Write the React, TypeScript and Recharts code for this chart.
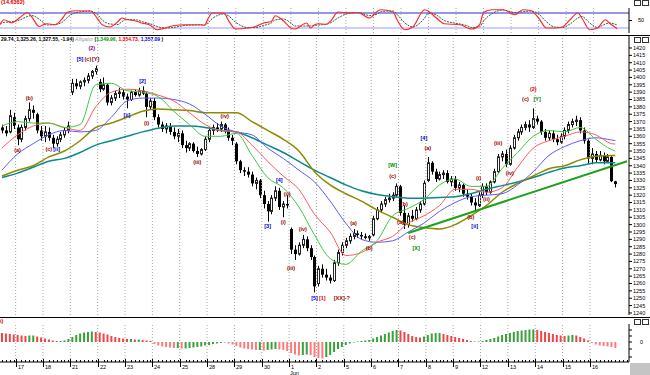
import React from "react";
import {
  Bar,
  Cell,
  ComposedChart,
  Line,
  ReferenceDot,
  ReferenceLine,
  XAxis,
  YAxis,
} from "recharts";

const W = 650;
const PLOT_W = 629;
const AXIS_W = W - PLOT_W;
const FONT = "'Liberation Sans', Arial, sans-serif";

const UP_HIST = "#3aa03a";
const DOWN_HIST = "#f04545";
const DOWN_HIST_NEG = "#ff7a7a";
const GRID = "#a8a8a8";

// trading days on the axis and the first hourly bar of each
const DAY_LABELS = ["17", "18", "21", "22", "23", "24", "25", "28", "29", "30", "1", "2", "5", "6", "7", "8", "9", "12", "13", "14", "15", "16"];
const DAY_START = [4, 11, 18, 25, 32, 39, 46, 53, 60, 67, 74, 81, 88, 95, 102, 109, 116, 123, 130, 137, 144, 151];
const MONTH_MARK: Record<string, string> = { "1": "Jun" };
const EMPTY_SLOTS = 3;

const PRICE_TICKS = [
  1240, 1245, 1250, 1255, 1260, 1265, 1270, 1275, 1280, 1285, 1290, 1295, 1300,
  1305, 1310, 1315, 1320, 1325, 1330, 1335, 1340, 1345, 1350, 1355, 1360, 1365,
  1370, 1375, 1380, 1385, 1390, 1395, 1400, 1405, 1410, 1415, 1420,
];

// hourly bars: open, high, low, close
const CANDLES: [number, number, number, number][] = [
  [1366, 1368, 1362, 1364], [1364, 1367, 1360, 1362], [1363, 1378, 1362, 1374], [1373, 1376, 1365, 1367],
  // 17
  [1366, 1368, 1354, 1358], [1358, 1368, 1356, 1366], [1366, 1374, 1364, 1372], [1372, 1383, 1370, 1378],
  [1378, 1381, 1372, 1376], [1375, 1376, 1362, 1364], [1364, 1367, 1357, 1360],
  // 18
  [1360, 1367, 1356, 1363], [1363, 1366, 1357, 1359], [1359, 1361, 1352, 1355], [1355, 1360, 1353, 1358],
  [1358, 1363, 1356, 1361], [1361, 1366, 1359, 1364], [1364, 1370, 1362, 1367],
  // 21
  [1390, 1399, 1388, 1396], [1396, 1399, 1392, 1394], [1394, 1398, 1392, 1397], [1397, 1400, 1394, 1398],
  [1398, 1403, 1396, 1401], [1401, 1405, 1399, 1404], [1404, 1408, 1402, 1406],
  // 22
  [1397, 1399, 1390, 1392], [1392, 1400, 1391, 1395], [1395, 1396, 1381, 1383], [1383, 1388, 1381, 1386],
  [1386, 1391, 1384, 1389], [1389, 1393, 1386, 1390], [1390, 1392, 1385, 1387],
  // 23
  [1387, 1389, 1379, 1385], [1385, 1391, 1384, 1390], [1390, 1392, 1387, 1388], [1388, 1393, 1387, 1391],
  [1391, 1394, 1388, 1389], [1389, 1390, 1373, 1380], [1380, 1386, 1378, 1384],
  // 24
  [1384, 1386, 1371, 1373], [1373, 1375, 1366, 1368], [1368, 1370, 1363, 1365], [1365, 1369, 1362, 1367],
  [1367, 1369, 1361, 1363], [1363, 1366, 1358, 1360], [1360, 1365, 1356, 1362],
  // 25
  [1362, 1364, 1352, 1354], [1354, 1357, 1349, 1352], [1352, 1356, 1350, 1355], [1355, 1356, 1349, 1350],
  [1350, 1353, 1346, 1348], [1348, 1352, 1347, 1351], [1351, 1360, 1350, 1358],
  // 28
  [1358, 1366, 1356, 1364], [1364, 1368, 1361, 1366], [1366, 1369, 1363, 1365], [1365, 1370, 1363, 1368],
  [1368, 1369, 1362, 1364], [1364, 1366, 1357, 1359], [1359, 1361, 1354, 1357],
  // 29
  [1355, 1356, 1341, 1343], [1343, 1344, 1335, 1337], [1337, 1339, 1333, 1336], [1336, 1339, 1332, 1334],
  [1334, 1336, 1326, 1328], [1328, 1332, 1324, 1330], [1330, 1331, 1318, 1320],
  // 30
  [1320, 1323, 1311, 1314], [1314, 1316, 1302, 1309], [1309, 1320, 1307, 1318], [1318, 1326, 1316, 1323],
  [1323, 1325, 1310, 1312], [1312, 1316, 1305, 1314], [1314, 1320, 1311, 1313],
  // Jun 1
  [1297, 1298, 1280, 1283], [1283, 1286, 1276, 1280], [1280, 1288, 1279, 1286], [1286, 1293, 1284, 1290],
  [1290, 1292, 1282, 1284], [1284, 1286, 1276, 1278], [1278, 1279, 1254, 1258],
  // 2
  [1260, 1272, 1258, 1270], [1270, 1273, 1264, 1266], [1266, 1270, 1262, 1264], [1264, 1266, 1260, 1262],
  [1262, 1276, 1261, 1274], [1274, 1283, 1272, 1281], [1281, 1288, 1279, 1286],
  // 5
  [1286, 1291, 1284, 1289], [1289, 1294, 1287, 1292], [1292, 1297, 1290, 1294], [1294, 1296, 1291, 1293],
  [1293, 1295, 1290, 1292], [1292, 1294, 1290, 1291], [1291, 1293, 1289, 1292],
  // 6
  [1293, 1306, 1292, 1304], [1304, 1312, 1303, 1310], [1310, 1316, 1308, 1314], [1314, 1319, 1312, 1317],
  [1317, 1321, 1315, 1318], [1318, 1322, 1316, 1320], [1320, 1328, 1319, 1326],
  // 7
  [1326, 1327, 1306, 1308], [1308, 1313, 1297, 1300], [1300, 1308, 1298, 1306], [1306, 1310, 1302, 1304],
  [1304, 1312, 1303, 1310], [1310, 1316, 1308, 1314], [1314, 1330, 1313, 1328],
  // 8
  [1330, 1346, 1329, 1342], [1342, 1343, 1334, 1336], [1336, 1338, 1329, 1331], [1331, 1336, 1330, 1334],
  [1334, 1337, 1331, 1335], [1335, 1337, 1328, 1329], [1329, 1333, 1326, 1331],
  // 9
  [1331, 1333, 1323, 1325], [1325, 1329, 1322, 1327], [1327, 1328, 1319, 1321], [1321, 1324, 1317, 1319],
  [1319, 1321, 1313, 1315], [1315, 1318, 1309, 1313], [1313, 1322, 1312, 1320],
  // 12
  [1320, 1328, 1318, 1326], [1326, 1328, 1320, 1322], [1322, 1330, 1321, 1329], [1329, 1338, 1328, 1336],
  [1336, 1348, 1335, 1346], [1346, 1350, 1343, 1348], [1348, 1351, 1339, 1341],
  // 13
  [1341, 1354, 1340, 1352], [1352, 1361, 1351, 1359], [1359, 1365, 1357, 1363], [1363, 1368, 1361, 1366],
  [1366, 1370, 1364, 1368], [1368, 1371, 1363, 1366], [1366, 1379, 1365, 1372],
  // 14
  [1372, 1374, 1368, 1370], [1370, 1371, 1361, 1363], [1363, 1365, 1357, 1359], [1359, 1364, 1357, 1362],
  [1362, 1364, 1356, 1358], [1358, 1361, 1354, 1356], [1356, 1362, 1355, 1360],
  // 15
  [1360, 1366, 1358, 1364], [1364, 1370, 1362, 1368], [1368, 1372, 1366, 1370], [1370, 1374, 1367, 1371],
  [1371, 1373, 1362, 1364], [1364, 1366, 1355, 1357], [1357, 1358, 1341, 1345],
  // 16
  [1345, 1352, 1341, 1348], [1348, 1350, 1342, 1344], [1344, 1350, 1343, 1347], [1347, 1349, 1341, 1343],
  [1343, 1348, 1342, 1346], [1346, 1347, 1329, 1329.49], [1329.4, 1329.74, 1325.26, 1327.55],
];

// moving averages read at every 4th bar
const MA_IDX = [0, 4, 8, 12, 16, 20, 24, 28, 32, 36, 40, 44, 48, 52, 56, 60, 64, 68, 72, 76, 80, 84, 88, 92, 96, 100, 104, 108, 112, 116, 120, 124, 128, 132, 136, 140, 144, 148, 152, 156, 157];
const LIPS = [1367, 1370, 1369, 1369, 1366, 1368, 1395, 1396, 1391, 1390, 1387, 1377, 1368, 1360, 1360, 1362, 1347, 1332, 1325, 1312, 1293, 1277, 1273, 1282, 1289, 1306, 1311, 1317, 1327, 1331, 1326, 1326, 1338, 1349, 1360, 1364, 1363, 1366, 1358, 1351, 1349.96];
const TEETH = [1352, 1361, 1367, 1369, 1366, 1364, 1380, 1390, 1392, 1391, 1388, 1384, 1376, 1368, 1364, 1363, 1354, 1343, 1333, 1324, 1307, 1295, 1279, 1281, 1288, 1292, 1301, 1306, 1313, 1324, 1324, 1322, 1325, 1339, 1352, 1357, 1360, 1363, 1361, 1355, 1354.73];
const JAW = [1337, 1348, 1355, 1361, 1364, 1363, 1364, 1373, 1384, 1386, 1386, 1385, 1382, 1375, 1367, 1363, 1361, 1352, 1345, 1337, 1329, 1316, 1301, 1290, 1288, 1289, 1295, 1301, 1309, 1315, 1319, 1320, 1321, 1327, 1336, 1347, 1353, 1357, 1359, 1357.5, 1357.09];
const OLIVE = [1333, 1337, 1340, 1346, 1350, 1357, 1366, 1369, 1373, 1377, 1378.5, 1378, 1377.5, 1376, 1376, 1376, 1370, 1364, 1358, 1350, 1336, 1327, 1321, 1316, 1310, 1305, 1300, 1298, 1297, 1300, 1306, 1313, 1322, 1328, 1333, 1338, 1340, 1344, 1346.5, 1347, 1347];
const TEAL = [1332, 1335, 1339, 1343, 1345, 1349, 1354, 1357, 1360, 1363, 1365.5, 1367, 1367, 1366, 1364, 1363, 1359, 1354, 1349, 1343, 1337, 1332, 1327, 1323, 1320.5, 1319, 1318, 1318, 1318.5, 1319, 1321, 1324, 1326.5, 1329, 1332, 1335.5, 1338.5, 1340, 1342, 1342, 1342];

const TREND = [
  { i: 104, p: 1294.3 },
  { i: 160, p: 1343.1 },
];

// stochastic %K / %D
const STOCH_IDX = [0, 1, 3, 5, 7, 8, 10, 11, 12, 14, 16, 17, 19, 23, 25, 26, 28, 30, 31, 32, 35, 36, 38, 40, 42, 44, 47, 51, 52, 53, 54, 57, 58, 60, 63, 65, 67, 69, 70, 72, 74, 75, 78, 79, 80, 81, 83, 84, 86, 89, 91, 94, 96, 97, 100, 101, 103, 105, 108, 109, 111, 113, 117, 119, 120, 122, 123, 125, 128, 131, 133, 135, 137, 139, 141, 143, 145, 147, 148, 150, 152, 154, 155, 157];
const STOCH_K = [33, 53, 41, 61, 82, 66, 26, 33, 37, 33, 61, 82, 89, 88, 53, 33, 24, 46, 60, 55, 46, 40, 33, 13, 20, 29, 33, 33, 31, 60, 80, 80, 53, 16, 20, 26, 40, 46, 69, 50, 20, 16, 40, 20, 33, 37, 35, 46, 84, 80, 82, 60, 87, 93, 84, 53, 13, 24, 93, 87, 60, 37, 33, 20, 16, 33, 82, 93, 93, 73, 93, 90, 60, 20, 20, 24, 53, 80, 60, 13, 20, 53, 40, 17];
const STOCH_D = [38, 42, 45, 52, 66, 70, 55, 42, 32, 34, 45, 60, 80, 88, 70, 52, 36, 34, 45, 54, 52, 46, 38, 26, 20, 22, 30, 32, 32, 42, 58, 76, 70, 42, 22, 22, 30, 40, 52, 56, 40, 28, 28, 28, 30, 32, 35, 40, 60, 80, 82, 70, 76, 86, 88, 74, 40, 24, 60, 80, 72, 50, 36, 28, 22, 25, 48, 76, 92, 82, 85, 88, 76, 45, 24, 22, 36, 60, 66, 40, 22, 36, 40, 32];

// oscillator histogram, one per bar
const HIST = [
  9, 8.5, 8, 7.5,
  7, 6.5, 6, 6.5, 6.5, 5.5, 4.5,
  3.5, 2.5, 1.5, 1, 1, 1.5, 3,
  5, 7, 8.5, 9.5, 10, 10.5, 10,
  9.5, 8.5, 7.5, 6, 5, 4, 3.5,
  3, 3, 2.5, 2.5, 2, 1.5, 1,
  -2, -3.5, -4.5, -5, -5.5, -6, -6,
  -6.5, -6.5, -6, -5.5, -5, -4.5, -3.5,
  -3, -2, -1.5, -1, -0.5, -1.5, -2.5,
  -4, -5.5, -6.5, -7, -7.5, -8, -8,
  -8.5, -8, -7.5, -7, -7.5, -8, -9,
  -11, -12.5, -13.5, -13, -12.5, -13, -15,
  -16, -16.5, -15, -13, -10, -7, -5,
  -3, -1.5, -0.5, 0.5, 1, 1.5, 2,
  3.5, 5, 6.5, 8, 9.5, 11, 12,
  11.5, 10, 8, 6, 5, 4.5, 5.5,
  7, 8.5, 9, 9, 8, 7, 6,
  5, 4, 3, 2, 1, 0.5, 0.5,
  1, 2, 3, 4, 5.5, 7, 8,
  9, 10, 11, 11.5, 12, 12.5, 12.5,
  12, 11, 10, 9, 8, 7, 6.5,
  6, 6.5, 7, 6.5, 5, 3.5, 1.5,
  -1, -2.5, -3.5, -4, -4.5, -5, -6,
];

const DARK_RED = "#990000";
const BLUE = "#0000cc";
const GREEN_TXT = "#008800";
const WAVES = [
  { i: 4, p: 1350.7, t: "(a)", c: DARK_RED },
  { i: 7, p: 1386, t: "(b)", c: DARK_RED },
  { i: 12, p: 1351.4, t: "(c)", c: DARK_RED },
  { i: 14, p: 1351.4, t: "[ii]", c: BLUE },
  { i: 23, p: 1420, t: "(2)", c: "#880088" },
  { i: 20, p: 1412.5, t: "[5]", c: BLUE },
  { i: 22, p: 1412.5, t: "(c)", c: DARK_RED },
  { i: 24, p: 1412.5, t: "[Y]", c: "#770022" },
  { i: 32, p: 1374.5, t: "[ii]", c: BLUE },
  { i: 36, p: 1397.6, t: "[2]", c: BLUE },
  { i: 37, p: 1369, t: "(i)", c: DARK_RED },
  { i: 50, p: 1342.6, t: "(iii)", c: DARK_RED },
  { i: 57, p: 1373.8, t: "(iv)", c: DARK_RED },
  { i: 68, p: 1299, t: "[3]", c: BLUE },
  { i: 71, p: 1330.3, t: "[4]", c: BLUE },
  { i: 72, p: 1302, t: "(i)", c: DARK_RED },
  { i: 73, p: 1320.8, t: "(ii)", c: DARK_RED },
  { i: 74, p: 1270.5, t: "(iii)", c: DARK_RED },
  { i: 77, p: 1297, t: "(iv)", c: DARK_RED },
  { i: 80, p: 1250, t: "[5]", c: BLUE },
  { i: 82, p: 1250, t: "[1]", c: "#ee0000" },
  { i: 87, p: 1250, t: "[XX]-?", c: DARK_RED },
  { i: 90, p: 1301, t: "(a)", c: DARK_RED },
  { i: 94, p: 1284, t: "(b)", c: DARK_RED },
  { i: 100, p: 1340.5, t: "[W]", c: GREEN_TXT },
  { i: 100, p: 1333, t: "(c)", c: DARK_RED },
  { i: 102, p: 1301.8, t: "(a)", c: DARK_RED },
  { i: 103, p: 1314, t: "(b)", c: DARK_RED },
  { i: 105, p: 1291.6, t: "(c)", c: DARK_RED },
  { i: 106, p: 1284, t: "[X]", c: GREEN_TXT },
  { i: 108, p: 1358.9, t: "[4]", c: BLUE },
  { i: 109, p: 1352, t: "(a)", c: DARK_RED },
  { i: 120, p: 1305.2, t: "(b)", c: DARK_RED },
  { i: 121, p: 1299.1, t: "[ii]", c: BLUE },
  { i: 122, p: 1331.7, t: "(i)", c: DARK_RED },
  { i: 124, p: 1317.4, t: "(ii)", c: DARK_RED },
  { i: 127, p: 1355.5, t: "(iii)", c: DARK_RED },
  { i: 130, p: 1335, t: "(iv)", c: DARK_RED },
  { i: 136, p: 1392, t: "(2)", c: "#ee0000" },
  { i: 134, p: 1385.4, t: "(c)", c: DARK_RED },
  { i: 137, p: 1385.4, t: "[Y]", c: GREEN_TXT },
];

type Row = {
  i: number;
  range?: [number, number];
  o?: number;
  c?: number;
  hist?: number;
  lips?: number;
  teeth?: number;
  jaw?: number;
  olive?: number;
  teal?: number;
  k?: number;
  d?: number;
};

const rows: Row[] = [];
for (let i = 0; i < CANDLES.length + EMPTY_SLOTS; i++) rows.push({ i });
CANDLES.forEach(([o, h, l, c], i) => Object.assign(rows[i], { range: [l, h], o, c, hist: HIST[i] }));
MA_IDX.forEach((i, n) =>
  Object.assign(rows[i], { lips: LIPS[n], teeth: TEETH[n], jaw: JAW[n], olive: OLIVE[n], teal: TEAL[n] })
);
STOCH_IDX.forEach((i, n) => Object.assign(rows[i], { k: STOCH_K[n], d: STOCH_D[n] }));

// rising bar green, falling bar red (first bar compared with the one after it)
function histColor(i: number) {
  const v = HIST[i];
  const rising = i > 0 ? v >= HIST[i - 1] : v <= HIST[1];
  if (rising) return UP_HIST;
  return v < 0 ? DOWN_HIST_NEG : DOWN_HIST;
}

function Candle(props: any) {
  const { x, y, width, height, payload } = props;
  if (!payload || payload.o == null) return null;
  const [lo, hi] = payload.range;
  const top = Math.min(y, y + height);
  const h = Math.abs(height);
  const toY = (v: number) => top + ((hi - v) / (hi - lo || 1)) * h;
  const cx = Math.round(x + width / 2) + 0.5;
  const bTop = toY(Math.max(payload.o, payload.c));
  const bBot = toY(Math.min(payload.o, payload.c));
  const up = payload.c >= payload.o;
  return (
    <g>
      <line x1={cx} x2={cx} y1={top} y2={top + h} stroke="#000" strokeWidth={1} />
      {up ? (
        <rect x={cx - 1} y={bTop} width={2} height={Math.max(bBot - bTop, 1)} fill="#fff" stroke="#222" strokeWidth={1} />
      ) : (
        <rect x={cx - 1.5} y={bTop} width={3} height={Math.max(bBot - bTop, 1)} fill="#000" />
      )}
    </g>
  );
}

function DayTick(props: any) {
  const { x, y, payload } = props;
  const k = DAY_START.indexOf(payload.value);
  const px = Math.round(x) + 0.5;
  if (k < 0) return <line x1={px} x2={px} y1={y - 2} y2={y} stroke="#000" strokeWidth={1} />;
  const ex = px - 2;
  const label = DAY_LABELS[k];
  return (
    <g>
      <line x1={ex} x2={ex} y1={y - 3} y2={y + 5} stroke="#000" strokeWidth={1} />
      <text x={ex + 1.5} y={y + 7} fontSize={5.5} fontFamily={FONT} fill="#000">
        {label}
      </text>
      {MONTH_MARK[label] && (
        <text x={ex + 0.5} y={y + 12.5} fontSize={5.5} fontFamily={FONT} fill="#000">
          {MONTH_MARK[label]}
        </text>
      )}
    </g>
  );
}

const waveShape = (t: string, c: string) => (p: any) =>
  (
    <text x={p.cx} y={p.cy} textAnchor="middle" dominantBaseline="central" fontSize={5.5} fontWeight="bold" fontFamily={FONT} fill={c}>
      {t}
    </text>
  );

const dayGrid = () =>
  DAY_START.map((d) => (
    <ReferenceLine key={`g${d}`} x={d} position="start" stroke={GRID} strokeDasharray="1 2" />
  ));

const axisTick = { fontSize: 5.5, fill: "#000", fontFamily: FONT };

function Icons({ top }: { top: number }) {
  const box = (left: number) => (
    <div style={{ position: "absolute", left, top, width: 5, height: 4, border: "1px solid #333", background: "#fff" }} />
  );
  return (
    <>
      {box(634)}
      {box(642)}
    </>
  );
}

export default function App() {
  return (
    <div style={{ position: "relative", width: W, height: 375, background: "#fff", overflow: "hidden", fontFamily: FONT }}>
      <style>{`body{margin:0}`}</style>

      <div style={{ position: "absolute", left: 1, top: -1, fontSize: 5.5, color: "#e00000", fontWeight: "bold" }}>(14.6362)</div>
      <Icons top={0} />

      {/* stochastic */}
      <div style={{ position: "absolute", left: 0, top: 0 }}>
        <ComposedChart width={W} height={35} data={rows} margin={{ top: 8, right: 0, bottom: 2, left: 0 }}>
          <XAxis dataKey="i" hide />
          <YAxis
            orientation="right"
            width={AXIS_W}
            domain={[0, 100]}
            ticks={[50]}
            tick={axisTick}
            tickSize={3}
            tickMargin={6}
            axisLine={{ stroke: "#000" }}
            tickLine={{ stroke: "#000" }}
          />
          {dayGrid()}
          <ReferenceLine y={80} stroke="#2a2ad8" strokeWidth={1} />
          <ReferenceLine y={20} stroke="#9a9aff" strokeWidth={1} />
          <Line dataKey="d" type="monotone" stroke="#3d5a3d" strokeWidth={1} strokeDasharray="2 1" dot={false} connectNulls isAnimationActive={false} />
          <Line dataKey="k" type="monotone" stroke="#ff2a2a" strokeWidth={1.2} dot={false} connectNulls isAnimationActive={false} />
        </ComposedChart>
      </div>

      <div style={{ position: "absolute", left: 0, top: 35, width: W, height: 1, background: "#000" }} />

      {/* price */}
      <div style={{ position: "absolute", left: 0, top: 36 }}>
        <ComposedChart width={W} height={280} data={rows} margin={{ top: 0, right: 0, bottom: 1, left: 0 }}>
          <XAxis dataKey="i" hide />
          <YAxis
            orientation="right"
            width={AXIS_W}
            domain={[1238.6, 1428.15]}
            ticks={PRICE_TICKS}
            interval={0}
            allowDataOverflow
            tick={axisTick}
            tickSize={3}
            tickMargin={1}
            axisLine={{ stroke: "#000" }}
            tickLine={{ stroke: "#000" }}
          />
          {dayGrid()}
          <Line dataKey="teal" type="monotone" stroke="#0a8a8a" strokeWidth={1.5} dot={false} connectNulls isAnimationActive={false} />
          <Line dataKey="olive" type="monotone" stroke="#8f8a00" strokeWidth={1.5} dot={false} connectNulls isAnimationActive={false} />
          <Line dataKey="jaw" type="monotone" stroke="#5a5aff" strokeWidth={1} dot={false} connectNulls isAnimationActive={false} />
          <Line dataKey="teeth" type="monotone" stroke="#ff5a5a" strokeWidth={1} dot={false} connectNulls isAnimationActive={false} />
          <Line dataKey="lips" type="monotone" stroke="#3cc83c" strokeWidth={1} dot={false} connectNulls isAnimationActive={false} />
          <ReferenceLine
            segment={[
              { x: TREND[0].i, y: TREND[0].p },
              { x: TREND[1].i, y: TREND[1].p },
            ]}
            stroke="#1fa01f"
            strokeWidth={2}
          />
          <Bar dataKey="range" shape={(p: any) => <Candle {...p} />} isAnimationActive={false} />
          {WAVES.map((w, n) => (
            <ReferenceDot key={`w${n}`} x={w.i} y={w.p} r={1} shape={waveShape(w.t, w.c)} />
          ))}
        </ComposedChart>
      </div>

      <div style={{ position: "absolute", left: 1, top: 36, fontSize: 5, fontWeight: "bold", whiteSpace: "nowrap", lineHeight: "6px" }}>
        <span>29.74, 1,325.26, 1,327.55, -1.94)</span>
        <span style={{ color: "#999", fontStyle: "italic", fontWeight: "normal" }}> Alligator </span>
        <span>(</span>
        <span style={{ color: "#009900" }}>1,349.96, </span>
        <span style={{ color: "#ee0000" }}>1,354.73, </span>
        <span style={{ color: "#0000dd" }}>1,357.09</span>
        <span> )</span>
      </div>
      <Icons top={37} />

      <div style={{ position: "absolute", left: 0, top: 317, width: W, height: 1, background: "#000" }} />
      <div style={{ position: "absolute", left: 0, top: 318, fontSize: 5.5, color: "#e00000", fontWeight: "bold" }}>i)</div>
      <Icons top={319} />

      {/* oscillator + date axis */}
      <div style={{ position: "absolute", left: 0, top: 318 }}>
        <ComposedChart width={W} height={57} data={rows} margin={{ top: 6, right: 0, bottom: 0, left: 0 }}>
          <XAxis
            dataKey="i"
            interval={0}
            height={13}
            tickLine={false}
            tickSize={0}
            tickMargin={0}
            axisLine={{ stroke: "#000" }}
            tick={(p: any) => <DayTick {...p} />}
          />
          <YAxis
            orientation="right"
            width={AXIS_W}
            domain={[-20, 18]}
            ticks={[-15, -7, 0, 6, 12]}
            interval={0}
            tickFormatter={(v: number) => (v === 0 ? "0" : "")}
            tick={axisTick}
            tickSize={3}
            tickMargin={8}
            axisLine={{ stroke: "#000" }}
            tickLine={{ stroke: "#000" }}
          />
          {dayGrid()}
          <Bar dataKey="hist" barSize={2} isAnimationActive={false}>
            {rows.map((r) => (
              <Cell key={r.i} fill={r.hist == null ? "none" : histColor(r.i)} />
            ))}
          </Bar>
        </ComposedChart>
      </div>

      <div style={{ position: "absolute", left: 630, top: 363, width: 20, height: 12, background: "#c4c4c4" }} />
    </div>
  );
}
